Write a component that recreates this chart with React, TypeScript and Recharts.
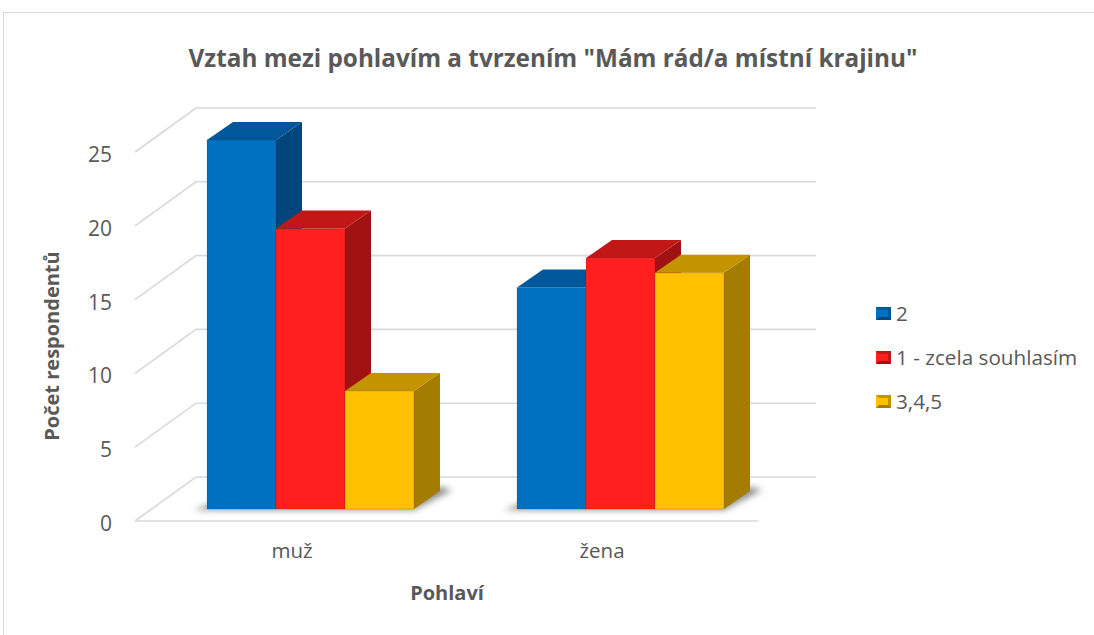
import React from 'react';
import { BarChart, Bar, XAxis, YAxis, CartesianGrid } from 'recharts';

const categories = ['muž', 'žena'];
const seriesNames = ['2', '1 - zcela souhlasím', '3,4,5'];
const values2 = [25, 15];
const values1 = [19, 17];
const values345 = [8, 16];
const yTicks = [0, 5, 10, 15, 20, 25];

const chartTitle = 'Vztah mezi pohlavím a tvrzením "Mám rád/a místní krajinu"';
const xTitle = 'Pohlaví';
const yTitle = 'Počet respondentů';

const palettes = [
  { front: '#0070C0', top: '#00589A', side: '#00467C' },
  { front: '#FF1F1F', top: '#C21717', side: '#A01212' },
  { front: '#FFC000', top: '#C49300', side: '#A47D00' },
];

const data = categories.map((c, i) => ({ cat: c, s2: values2[i], s1: values1[i], s345: values345[i] }));
const keys = ['s2', 's1', 's345'];

const FONT = '"Open Sans", "DejaVu Sans", sans-serif';
const TXT = '#595959';
const GRID = '#D9D9D9';

// 3D geometry
const GX = 61, GY = -44; // back wall offset
const BX = 20, BY = -12; // bar front-plane offset
const DX = 26, DY = -18; // bar depth

const make3D = (pal: any, withShadow: boolean) => (props: any) => {
  const { x, y, width, height } = props;
  if (width == null || height == null) return <g />;
  const fx = x + BX;
  const fy = y + BY;
  const w = width;
  const h = height;
  const b = fy + h;
  const gw = w * 3;
  return (
    <g>
      {withShadow && (
        <g>
          <defs>
            <filter id="barShadowBlur" x="-20%" y="-50%" width="140%" height="200%">
              <feGaussianBlur stdDeviation="3" />
            </filter>
          </defs>
          <polygon
            points={`${fx - 13},${b + 1} ${fx + gw},${b + 1} ${fx + gw + DX + 12},${b + DY - 1} ${fx + gw + DX},${b + DY - 4} ${fx},${b - 4}`}
            fill="#333"
            opacity={0.55}
            filter="url(#barShadowBlur)"
          />
        </g>
      )}
      <polygon
        points={`${fx + w},${fy} ${fx + w + DX},${fy + DY} ${fx + w + DX},${b + DY} ${fx + w},${b}`}
        fill={pal.side}
      />
      <polygon
        points={`${fx},${fy} ${fx + DX},${fy + DY} ${fx + w + DX},${fy + DY} ${fx + w},${fy}`}
        fill={pal.top}
      />
      <rect x={fx} y={fy} width={w} height={h} fill={pal.front} stroke="rgba(0,0,0,0.12)" strokeWidth={1} />
    </g>
  );
};

const gridLine = (p: any) => {
  const { x1, y1, x2, y, height } = p;
  const bottom = (y ?? 0) + (height ?? 0);
  const isFloor = Math.abs(y1 - bottom) < 1;
  let d = `M${x1},${y1} L${x1 + GX},${y1 + GY} L${x2 + GX},${y1 + GY}`;
  if (isFloor) d += ` M${x1},${y1} L${x2 + 3},${y1}`;
  return <path key={`g-${y1}`} d={d} stroke={GRID} strokeWidth={1.6} fill="none" />;
};

const YTick = (props: any) => {
  const { x, y, payload } = props;
  return (
    <text x={x - 2} y={y} dy={2} textAnchor="end" dominantBaseline="central" fill={TXT} fontSize={21} fontFamily={FONT}>
      {payload.value}
    </text>
  );
};

const XTick = (props: any) => {
  const { x, y, payload } = props;
  return (
    <text x={x + 2} y={y} dy={3} textAnchor="middle" dominantBaseline="central" fill={TXT} fontSize={20.5} fontFamily={FONT}>
      {payload.value}
    </text>
  );
};

const LegendIcon = ({ pal }: any) => (
  <svg width={15} height={13} style={{ display: 'block' }}>
    <rect x={0} y={0} width={15} height={13} fill={pal.side} />
    <polygon points="0,0 15,0 12,3 3,3" fill={pal.top} />
    <polygon points="0,13 15,13 12,10 3,10" fill={pal.side} />
    <rect x={3} y={3} width={9} height={7} fill={pal.front} />
    <polygon points="0,0 3,3 3,10 0,13" fill={pal.front} />
    <polygon points="15,0 12,3 12,10 15,13" fill={pal.top} />
  </svg>
);

export default function App() {
  return (
    <div
      style={{
        position: 'absolute',
        left: 0,
        top: 0,
        width: 1094,
        height: 635,
        background: '#fff',
        overflow: 'hidden',
        fontFamily: FONT,
      }}
    >
      <div
        style={{
          position: 'absolute',
          left: 3,
          top: 12,
          width: 1200,
          height: 700,
          border: `1.5px solid ${GRID}`,
        }}
      />
      <div style={{ position: 'absolute', left: 0, top: 0 }}>
        <BarChart
          width={1094}
          height={635}
          data={data}
          margin={{ top: 152, right: 339, bottom: 114 - 50, left: 75 }}
          barCategoryGap={52}
          barGap={0}
        >
          <CartesianGrid vertical={false} horizontal={gridLine as any} />
          <YAxis
            width={60}
            domain={[0, 25]}
            ticks={yTicks}
            tickLine={false}
            axisLine={false}
            tickSize={6}
            tickMargin={15}
            tick={<YTick />}
            interval={0}
          />
          <XAxis
            dataKey="cat"
            height={50}
            tickLine={false}
            axisLine={false}
            tickSize={6}
            tickMargin={20}
            tick={<XTick />}
            interval={0}
          />
          {keys.map((k, i) => (
            <Bar
              key={k}
              dataKey={k}
              name={seriesNames[i]}
              fill={palettes[i].front}
              isAnimationActive={false}
              shape={make3D(palettes[i], i === 0)}
            />
          ))}
        </BarChart>
      </div>
      <svg width={1094} height={635} style={{ position: 'absolute', left: 0, top: 0, pointerEvents: 'none' }}>
        <text x={553} y={57} textAnchor="middle" dominantBaseline="central" fontSize={24.3} fontWeight="bold" fill={TXT} fontFamily={FONT}>
          {chartTitle}
        </text>
        <text x={447} y={592} textAnchor="middle" dominantBaseline="central" fontSize={20} fontWeight="bold" fill={TXT} fontFamily={FONT}>
          {xTitle}
        </text>
        <text
          x={0}
          y={0}
          transform="translate(51,346) rotate(-90)"
          textAnchor="middle"
          dominantBaseline="central"
          fontSize={20}
          fontWeight="bold"
          fill={TXT}
          fontFamily={FONT}
        >
          {yTitle}
        </text>
      </svg>
      <div style={{ position: 'absolute', left: 876, top: 299 }}>
        {seriesNames.map((n, i) => (
          <div key={n} style={{ display: 'flex', alignItems: 'center', height: 28, marginBottom: i < 2 ? 16 : 0 }}>
            <LegendIcon pal={palettes[i]} />
            <span style={{ marginLeft: 5, fontSize: 20.7, color: TXT, fontFamily: FONT, whiteSpace: 'nowrap' }}>{n}</span>
          </div>
        ))}
      </div>
    </div>
  );
}
